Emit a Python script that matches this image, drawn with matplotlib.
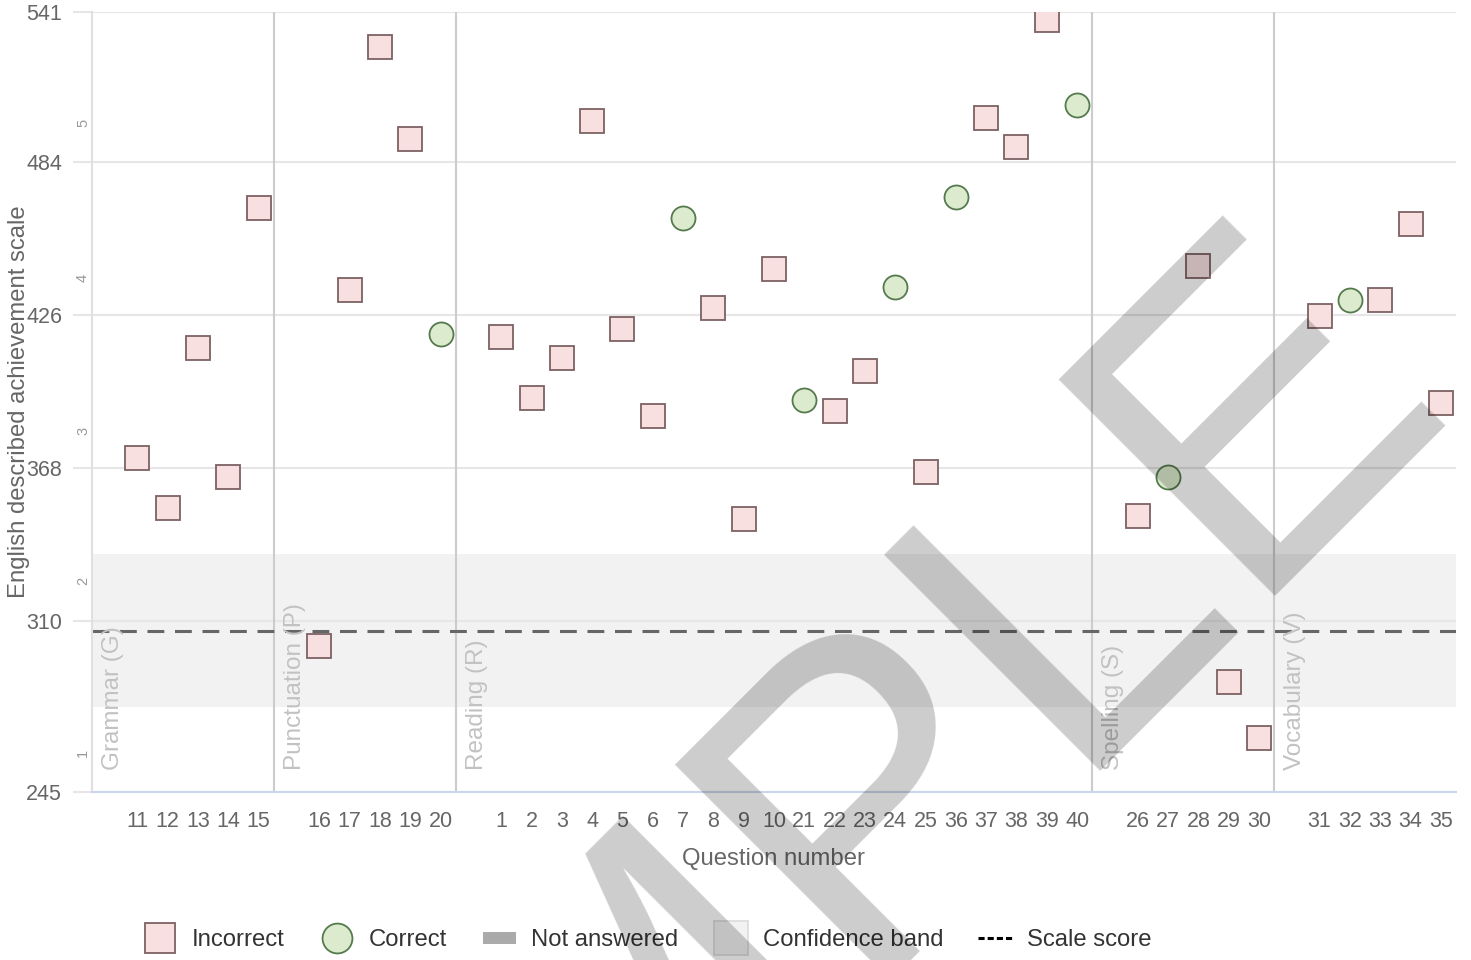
# Scale score chart: question difficulty by section, with student's response

import matplotlib
matplotlib.use('Agg')
import matplotlib.pyplot as plt
from matplotlib.lines import Line2D
import matplotlib.transforms as mtransforms

plt.rcParams['font.family'] = ['Liberation Sans', 'DejaVu Sans']

section_names = ['Grammar (G)', 'Punctuation (P)', 'Reading (R)', 'Spelling (S)', 'Vocabulary (V)']
section_questions = [
    [11, 12, 13, 14, 15],
    [16, 17, 18, 19, 20],
    [1, 2, 3, 4, 5, 6, 7, 8, 9, 10, 21, 22, 23, 24, 25, 36, 37, 38, 39, 40],
    [26, 27, 28, 29, 30],
    [31, 32, 33, 34, 35],
]
section_scores = [
    [371.8, 352.8, 413.5, 364.5, 466.6],
    [300.4, 435.5, 527.7, 492.8, 418.8],
    [417.7, 394.5, 409.7, 499.6, 420.7, 387.7, 462.8, 428.7, 348.6, 443.5,
     393.8, 389.6, 404.8, 436.6, 366.4, 470.8, 500.8, 489.8, 538.0, 505.7],
    [349.7, 364.5, 444.6, 286.7, 265.5],
    [425.6, 431.7, 431.7, 460.6, 392.6],
]
section_correct = [
    [0, 0, 0, 0, 0],
    [0, 0, 0, 0, 1],
    [0, 0, 0, 0, 0, 0, 1, 0, 0, 0, 1, 0, 0, 1, 0, 1, 0, 0, 0, 1],
    [0, 1, 0, 0, 0],
    [0, 1, 0, 0, 0],
]

y_ticks = [245, 310, 368, 426, 484, 541]
band_labels = ['1', '2', '3', '4', '5']
band_label_y = [260, 325, 382, 440, 499]

scale_score = 306.1
conf_low, conf_high = 277.3, 335.3

fig = plt.figure(figsize=(14.71, 9.6), dpi=100)
ax = fig.add_axes([92/1471, 168/960, 1364/1471, 780/960])

pink_face, pink_edge = '#f8e0e1', '#7d6163'
green_face, green_edge = '#dcebcd', '#557a4e'

# positions: each section gets one empty slot before its questions
xs, labels, boundaries, starts = [], [], [], []
b = 0
for qs in section_questions:
    starts.append(b)
    for i, q in enumerate(qs):
        xs.append(b + 1.5 + i)
        labels.append(str(q))
    b += len(qs) + 1
    boundaries.append(b)

scores = [v for s in section_scores for v in s]
correct = [c for s in section_correct for c in s]

ax.axhspan(conf_low, conf_high, color='#f2f2f2', zorder=0, lw=0)
ax.axhline(scale_score, color='#666666', lw=2.2, dashes=(5.5, 3.5), zorder=2)

for bx in boundaries[:-1]:
    ax.axvline(bx, color='#cccccc', lw=1.5, zorder=1)

for x, v, c in zip(xs, scores, correct):
    if c:
        ax.plot(x, v, 'o', ms=17.3, mfc=green_face, mec=green_edge, mew=1.3, zorder=4)
    else:
        ax.plot(x, v, 's', ms=17.3, mfc=pink_face, mec=pink_edge, mew=1.3, zorder=4)

for name, st in zip(section_names, starts):
    ax.text(st + 0.33, 253.3, name, rotation=90, ha='left', va='bottom',
            color='#c2c2c2', fontsize=17.5, zorder=3)

trans = mtransforms.blended_transform_factory(ax.transAxes, ax.transData)
for lab, yv in zip(band_labels, band_label_y):
    ax.text(-9/1364, yv, lab, rotation=90, ha='center', va='center',
            color='#999999', fontsize=10.5, transform=trans)

ax.set_xlim(0, b)
ax.set_ylim(245, 541)
ax.set_xticks(xs)
ax.set_xticklabels(labels)
ax.set_yticks(y_ticks)
ax.tick_params(axis='x', length=0, pad=14, labelsize=15.5, labelcolor='#666666')
ax.tick_params(axis='y', length=13.5, width=1.5, color='#e6e6e6', pad=8,
               labelsize=15.5, labelcolor='#666666')
ax.yaxis.grid(True, color='#e6e6e6', lw=1.5)
ax.set_axisbelow(True)

for side in ['top', 'right']:
    ax.spines[side].set_visible(False)
ax.spines['left'].set_color('#e0e0e0')
ax.spines['left'].set_linewidth(1.5)
ax.spines['bottom'].set_color('#ccd6eb')
ax.spines['bottom'].set_linewidth(1.5)

ax.set_ylabel('English described achievement scale', fontsize=17.2, color='#666666')
ax.yaxis.set_label_coords(-62/1364, 0.5)
ax.set_xlabel('Question number', fontsize=17.2, color='#666666')
ax.xaxis.set_label_coords(0.5, -56/780)

handles = [
    Line2D([], [], ls='none', marker='s', ms=21.5, mfc=pink_face, mec=pink_edge, mew=1.3),
    Line2D([], [], ls='none', marker='o', ms=21.5, mfc=green_face, mec=green_edge, mew=1.3),
    Line2D([], [], color='#aaaaaa', lw=8.6, solid_capstyle='butt'),
    Line2D([], [], ls='none', marker='s', ms=24.5, mfc='#f2f2f2', mec='#dddddd', mew=1.3),
    Line2D([], [], color='black', lw=2.2, dashes=(2, 1)),
]
leg_labels = ['Incorrect', 'Correct', 'Not answered', 'Confidence band', 'Scale score']
fig.legend(handles, leg_labels, loc='center left', bbox_to_anchor=(122/1471, 1 - 940/960),
           ncol=5, frameon=False, fontsize=17.2, handlelength=1.4, handletextpad=0.64,
           columnspacing=1.48, labelcolor='#333333')

# watermark
fig.text(0.5554, -0.078, 'SAMPLE', fontsize=320, rotation=45, rotation_mode='anchor',
         ha='center', va='baseline', color='black', alpha=0.2, zorder=10)

fig.savefig('out.png', dpi=100)
